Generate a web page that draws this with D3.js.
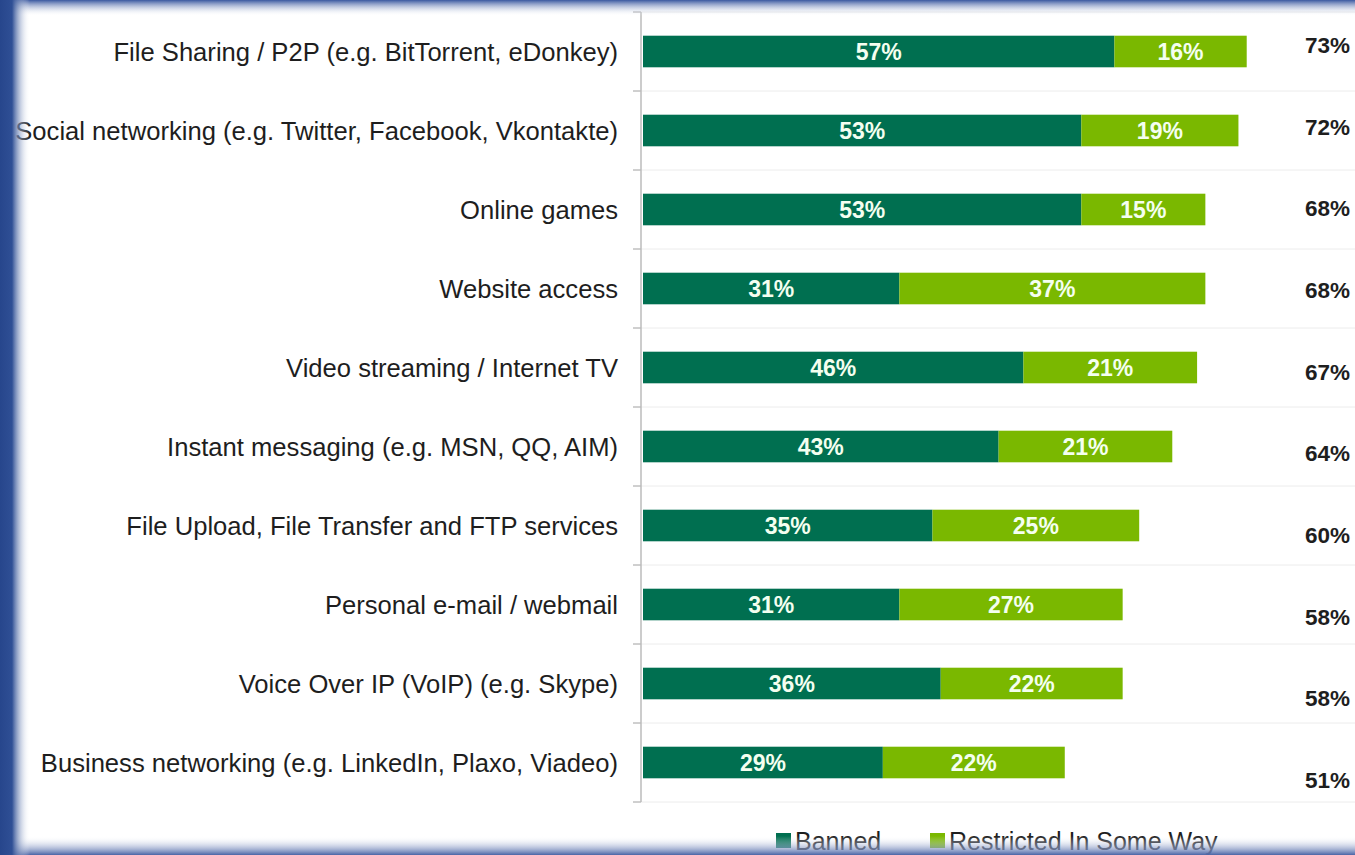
<!DOCTYPE html>
<html>
<head>
<meta charset="utf-8">
<script src="https://cdn.jsdelivr.net/npm/d3@7"></script>
<style>
  body { margin: 0; background: #fff; }
  svg { display: block; }
</style>
</head>
<body>
<div id="chart"></div>
<script>
"use strict";

// categories, top to bottom
var categories = [
    "File Sharing / P2P (e.g. BitTorrent, eDonkey)",
    "Social networking (e.g. Twitter, Facebook, Vkontakte)",
    "Online games",
    "Website access",
    "Video streaming / Internet TV",
    "Instant messaging (e.g. MSN, QQ, AIM)",
    "File Upload, File Transfer and FTP services",
    "Personal e-mail / webmail",
    "Voice Over IP (VoIP) (e.g. Skype)",
    "Business networking (e.g. LinkedIn, Plaxo, Viadeo)"
];
var banned = [57, 53, 53, 31, 46, 43, 35, 31, 36, 29];
var restricted = [16, 19, 15, 37, 21, 21, 25, 27, 22, 22];
var totals = [73, 72, 68, 68, 67, 64, 60, 58, 58, 51];
var seriesNames = ["Banned", "Restricted In Some Way"];
var seriesColors = ["#006f50", "#7ab800"];

var w = 1355;
var h = 855;

var svg = d3.select("#chart")
    .append("svg")
    .attr("width", w)
    .attr("height", h);

// frame gradients (blue slide border)
var defs = svg.append("defs");
function grad(id, x2, y2, stops) {
    var g = defs.append("linearGradient")
        .attr("id", id)
        .attr("x1", 0).attr("y1", 0)
        .attr("x2", x2).attr("y2", y2);
    stops.forEach(function (s) {
        g.append("stop")
            .attr("offset", s[0])
            .attr("stop-color", s[1])
            .attr("stop-opacity", s[2]);
    });
}
grad("gl", 1, 0, [[0, "#27468c", 1], [0.4, "#2f4f95", 1], [1, "#ffffff", 0]]);
grad("gt", 0, 1, [[0, "#3a58a0", 1], [1, "#ffffff", 0]]);
grad("gb", 0, 1, [[0, "#ffffff", 0], [1, "#4a64a6", 1]]);

var y = d3.scaleBand()
    .domain(categories)
    .range([12, 802])
    .paddingInner(0.6)
    .paddingOuter(0.3);

// the row bands (for grid lines), no padding
var rows = d3.scaleBand()
    .domain(categories)
    .range([12, 802]);

var x = d3.scaleLinear()
    .domain([0, 100])
    .range([643, 1470]);

// grid separators
svg.append("g")
    .selectAll("line")
    .data(categories.concat(["end"]))
    .enter()
    .append("line")
    .attr("x1", 633)
    .attr("x2", w)
    .attr("y1", function (d, i) { return 12 + i * rows.step(); })
    .attr("y2", function (d, i) { return 12 + i * rows.step(); })
    .attr("stroke", "#ececec")
    .attr("stroke-width", 1);

// tick marks
svg.append("g")
    .selectAll("line")
    .data(categories.concat(["end"]))
    .enter()
    .append("line")
    .attr("x1", 633)
    .attr("x2", 641)
    .attr("y1", function (d, i) { return 12 + i * rows.step(); })
    .attr("y2", function (d, i) { return 12 + i * rows.step(); })
    .attr("stroke", "#aaa");

// axis line
svg.append("line")
    .attr("x1", 641).attr("x2", 641)
    .attr("y1", 12).attr("y2", 802)
    .attr("stroke", "#bbb")
    .attr("stroke-width", 1.5);

// stacked bars
var stackData = categories.map(function (c, i) {
    return { cat: c, Banned: banned[i], "Restricted In Some Way": restricted[i] };
});
var series = d3.stack().keys(seriesNames)(stackData);

var layers = svg.selectAll(".layer")
    .data(series)
    .enter()
    .append("g")
    .attr("class", "layer")
    .attr("fill", function (d, i) { return seriesColors[i]; });

layers.selectAll("rect")
    .data(function (d) { return d; })
    .enter()
    .append("rect")
    .attr("x", function (d) { return x(d[0]); })
    .attr("width", function (d) { return x(d[1]) - x(d[0]); })
    .attr("y", function (d) { return y(d.data.cat); })
    .attr("height", y.bandwidth());

layers.selectAll("text")
    .data(function (d) { return d; })
    .enter()
    .append("text")
    .attr("x", function (d) { return (x(d[0]) + x(d[1])) / 2; })
    .attr("y", function (d) { return y(d.data.cat) + y.bandwidth() / 2; })
    .attr("dy", "0.36em")
    .attr("text-anchor", "middle")
    .attr("fill", "#f4fff0")
    .style("font-family", "'Liberation Sans', Arial, sans-serif")
    .style("font-weight", "bold")
    .style("font-size", "23px")
    .text(function (d) { return (d[1] - d[0]) + "%"; });

// category labels
svg.append("g")
    .selectAll("text")
    .data(categories)
    .enter()
    .append("text")
    .attr("x", 618)
    .attr("y", function (d) { return y(d) + y.bandwidth() / 2; })
    .attr("dy", "0.36em")
    .attr("text-anchor", "end")
    .attr("fill", "#1e1e1e")
    .style("font-family", "'Liberation Sans', Arial, sans-serif")
    .style("font-size", "25.6px")
    .text(function (d) { return d; });

// totals column (sits on its own spacing in the original)
var yTot = d3.scalePoint()
    .domain(categories)
    .range([45, 780]);

svg.append("g")
    .selectAll("text")
    .data(totals)
    .enter()
    .append("text")
    .attr("x", 1350)
    .attr("y", function (d, i) { return yTot(categories[i]); })
    .attr("dy", "0.36em")
    .attr("text-anchor", "end")
    .attr("fill", "#1e1e1e")
    .style("font-family", "'Liberation Sans', Arial, sans-serif")
    .style("font-weight", "bold")
    .style("font-size", "22.5px")
    .text(function (d) { return d + "%"; });

// legend
var legendX = [776, 930];
var legend = svg.append("g")
    .selectAll("g")
    .data(seriesNames)
    .enter()
    .append("g")
    .attr("transform", function (d, i) { return "translate(" + legendX[i] + ",841)"; });

legend.append("rect")
    .attr("x", 0)
    .attr("y", -8)
    .attr("width", 15)
    .attr("height", 15)
    .attr("fill", function (d, i) { return seriesColors[i]; });

legend.append("text")
    .attr("x", 19)
    .attr("y", 0)
    .attr("dy", "0.36em")
    .attr("fill", "#1e1e1e")
    .style("font-family", "'Liberation Sans Narrow', 'Arial Narrow', sans-serif")
    .style("font-size", "25px")
    .text(function (d) { return d; });

// blue slide border on top
svg.append("rect").attr("x", 0).attr("y", 0).attr("width", w).attr("height", 16).attr("fill", "url(#gt)");
svg.append("rect").attr("x", 0).attr("y", 836).attr("width", w).attr("height", 19).attr("fill", "url(#gb)");
svg.append("rect").attr("x", 0).attr("y", 0).attr("width", 30).attr("height", h).attr("fill", "url(#gl)");
</script>
</body>
</html>
